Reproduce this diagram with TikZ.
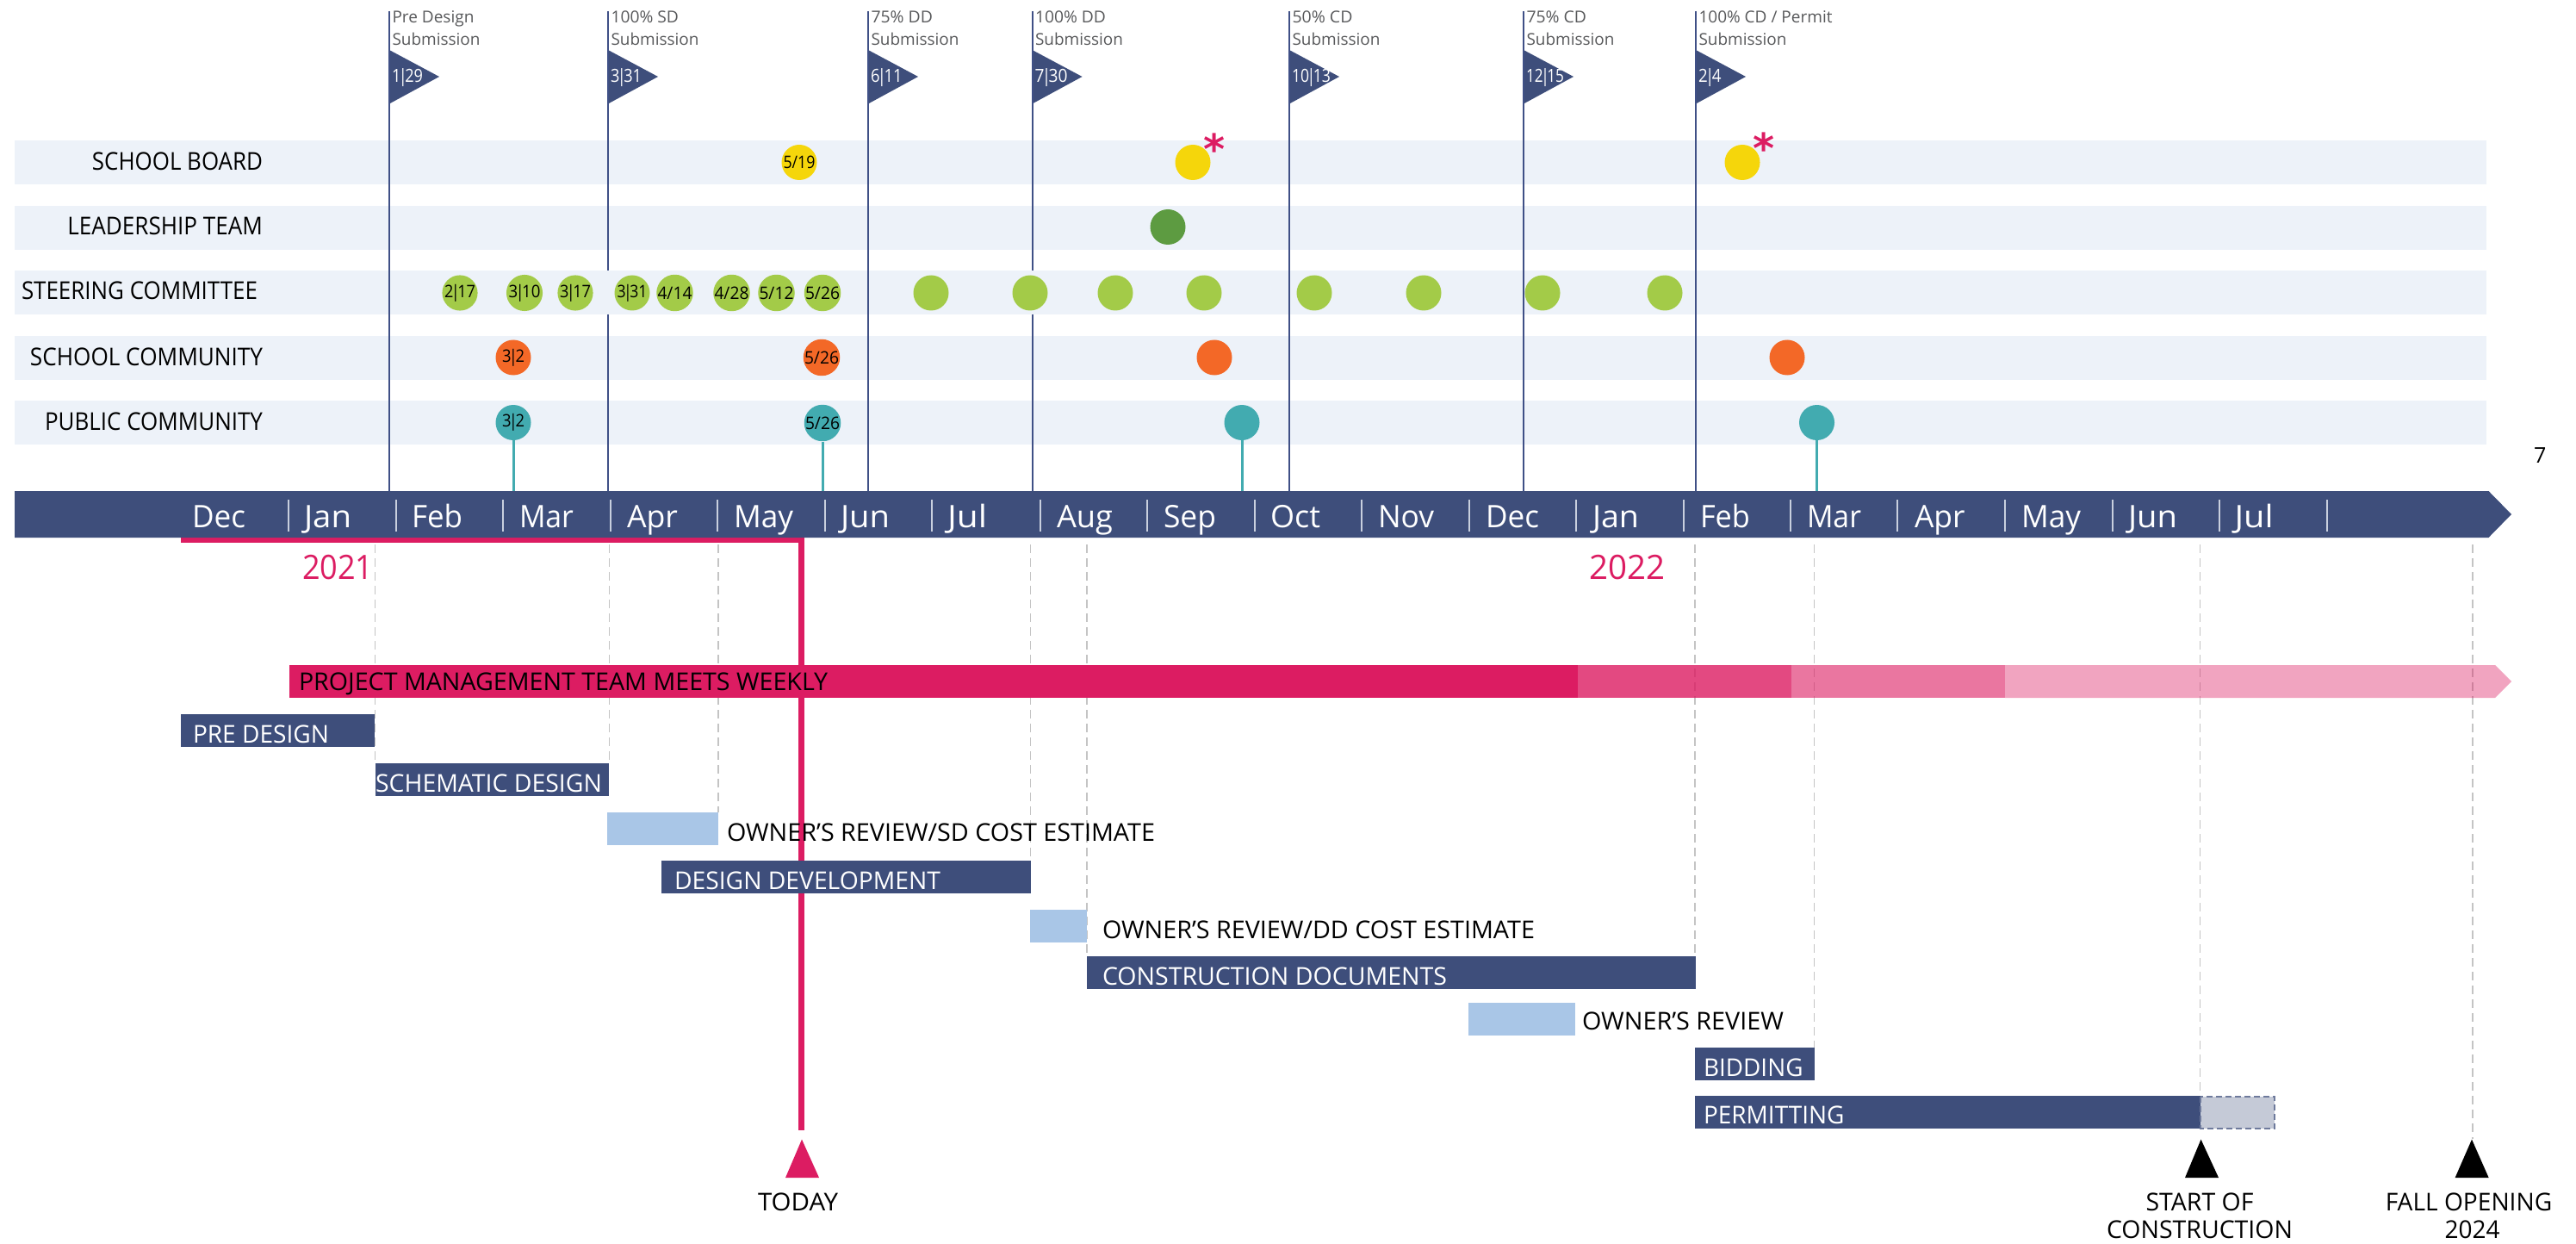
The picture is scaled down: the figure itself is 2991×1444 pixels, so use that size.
\documentclass[tikz,border=0pt]{standalone}
\usepackage{fontspec}
\setmainfont{Open Sans}
\newfontfamily\starfont{DejaVu Sans}
\newdimen\pxu \pxu=0.5pt
\newcommand\fpx[1]{\fontsize{#1\pxu}{#1\pxu}\selectfont}
\newcommand\tw[2]{\resizebox{#1\pxu}{\height}{#2}}
\newcommand\sepbar{{\kern-.14em|\kern-.14em}}
\newcommand\slsh{/}
\definecolor{navy}{HTML}{3E4E7B}
\definecolor{navyline}{HTML}{3F5086}
\definecolor{band}{HTML}{EDF2F9}
\definecolor{hot}{HTML}{DC1C62}
\definecolor{lightblue}{HTML}{A9C6E7}
\definecolor{ytick}{HTML}{C8CFDE}
\definecolor{ygold}{HTML}{F5D60B}
\definecolor{gleaf}{HTML}{5D9B41}
\definecolor{glime}{HTML}{A3CB48}
\definecolor{orng}{HTML}{F36827}
\definecolor{teal2}{HTML}{42ABB0}
\definecolor{flagtext}{HTML}{58595B}
\definecolor{guide}{HTML}{C4C4C4}
\tikzset{
  tx/.style={inner sep=0pt,outer sep=0pt,anchor=base west,text=black},
  rowlabel/.style={tx,anchor=base east,font=\fpx{28.5}},
  barlabel/.style={tx,font=\fpx{28.5}},
  barwhite/.style={barlabel,text=white},
  month/.style={tx,text=white,font=\fpx{36}},
  flaglabel/.style={tx,text=flagtext,font=\fpx{19}},
  flagdate/.style={tx,anchor=west,text=white,font=\fpx{21}},
  dot/.style={circle,inner sep=0pt,minimum size=41*\pxu,font=\fpx{20},text=black},
  flagline/.style={draw=navyline,line width=2*\pxu},
  stem/.style={draw=teal2,line width=3*\pxu},
  guideline/.style={draw=guide,line width=1.5*\pxu,dash pattern=on 10*\pxu off 6*\pxu},
  yr/.style={tx,text=hot,font=\fpx{39}},
  milestone/.style={tx,anchor=base,font=\fpx{28.5}},
  starmark/.style={inner sep=0pt,text=hot,font=\fpx{48}\starfont\bfseries}
}
\begin{document}
\begin{tikzpicture}[x=0.5pt,y=-0.5pt]
\useasboundingbox (0,0) rectangle (2991,1444);
\fill[white] (0,0) rectangle (2991,1444);
% bands
\foreach \yt in {163,239,314,390,465}
  \fill[band] (17,\yt) rectangle (2887,\yt+51);
\coordinate (axis) at (0,570);
% flag lines
\foreach \n/\xp/\atx/\wa/\dtx/\wdt in {
  a/452/Pre Design/95/1\sepbar 29/36,
  b/706/100\% SD/78.5/3\sepbar 31/36,
  c/1008/75\% DD/71.5/6\sepbar 11/36.5,
  d/1198.5/100\% DD/82/7\sepbar 30/38,
  e/1497/50\% CD/70/10\sepbar 13/45,
  f/1769/75\% CD/69.5/12\sepbar 15/44,
  g/1969/100\% CD \slsh{} Permit/155/2\sepbar 4/26.5}{
  \coordinate (ft\n) at (\xp,13);
  \coordinate (fb\n) at (\xp,570);
  \fill[navy] (\xp,58) -- (\xp+58,89) -- (\xp,120.5) -- cycle;
  \node[flaglabel] (fa\n) at (\xp+3.5,27) {\tw{\wa}{\atx}};
  \node[flaglabel] (fs\n) at (\xp+3.5,53) {\tw{102}{Submission}};
  \node[flagdate] (fd\n) at (\xp+3,90) {\tw{\wdt}{\dtx}};
}
\draw[flagline] (fta) -- (fba);
\draw[flagline] (ftb) -- (706,314) (706,365) -- (fbb);
\draw[flagline] (ftc) -- (fbc);
\draw[flagline] (ftd) -- (1198.5,314) (1198.5,365) -- (fbd);
\draw[flagline] (fte) -- (fbe);
\draw[flagline] (ftf) -- (fbf);
\draw[flagline] (ftg) -- (fbg);
% row labels
\node[rowlabel] (r1) at (305,197.5) {\tw{198}{SCHOOL BOARD}};
\node[rowlabel] (r2) at (305,273) {\tw{226.6}{LEADERSHIP TEAM}};
\node[rowlabel] (r3) at (299,348) {\tw{274}{STEERING COMMITTEE}};
\node[rowlabel] (r4) at (305,424) {\tw{270}{SCHOOL COMMUNITY}};
\node[rowlabel] (r5) at (305,499) {\tw{253}{PUBLIC COMMUNITY}};
% dots
\node[dot,fill=ygold] (sb1) at (928,188.5) {\tw{37}{5/19}};
\node[dot,fill=ygold] (sb2) at (1385,188.5) {};
\node[dot,fill=ygold] (sb3) at (2023,188.5) {};
\node[starmark] (st1) at (1410,173) {*};
\node[starmark] (st2) at (2048,172) {*};
\node[dot,fill=gleaf] (lt1) at (1356,263.5) {};
\foreach \n/\xp/\dtx/\tww in {1/534/2\sepbar 17/36,2/609/3\sepbar 10/37,3/668/3\sepbar 17/36,4/734/3\sepbar 31/35,5/783.5/4\slsh{}14/40,6/849.5/4\slsh{}28/40,7/901.5/5\slsh{}12/40,8/955/5\slsh{}26/40}{
  \node[dot,fill=glime] (sc\n) at (\xp,340) {\tw{\tww}{\dtx}};
}
\foreach \n/\xp in {9/1081,10/1196,11/1295,12/1398,13/1526,14/1653,15/1791,16/1933}{
  \node[dot,fill=glime] (sc\n) at (\xp,340) {};
}
\node[dot,fill=orng] (so1) at (596,415) {\tw{26}{3\sepbar 2}};
\node[dot,fill=orng] (so2) at (954,415) {\tw{40}{5/26}};
\node[dot,fill=orng] (so3) at (1410,415) {};
\node[dot,fill=orng] (so4) at (2075,415) {};
\node[dot,fill=teal2] (pc1) at (596,490.5) {\tw{26}{3\sepbar 2}};
\node[dot,fill=teal2] (pc2) at (955,491) {\tw{40}{5/26}};
\node[dot,fill=teal2] (pc3) at (1442,490.5) {};
\node[dot,fill=teal2] (pc4) at (2109.5,490.5) {};
\foreach \n in {pc1,pc2,pc3,pc4}
  \draw[stem] (\n.south) -- (\n.south |- axis);
% guides
\coordinate (g1a) at (435.6,632); \coordinate (g1b) at (435.6,886);
\coordinate (g2a) at (707.5,632); \coordinate (g2b) at (707.5,886);
\coordinate (g3a) at (834,632);   \coordinate (g3b) at (834,943);
\coordinate (g4a) at (1196.5,632);\coordinate (g4b) at (1196.5,999);
\coordinate (g5a) at (1262,632);  \coordinate (g5b) at (1262,1110);
\coordinate (g6a) at (1968,632);\coordinate (g6b) at (1968,1110);
\coordinate (g7a) at (2106.7,632);  \coordinate (g7b) at (2106.7,1216);
\coordinate (g8a) at (2554.5,632);  \coordinate (g8b) at (2554.5,1272);
\coordinate (g9a) at (2871,632);\coordinate (g9b) at (2871,1322);
\foreach \ii in {1,...,9}
  \draw[guideline] (g\ii a) -- (g\ii b);
% today line
\fill[hot] (210,624) rectangle (933.5,630);
\coordinate (todaytop) at (930.5,624);
\coordinate (todaybot) at (930.5,1312);
\draw[hot,line width=7*\pxu] (todaytop) -- (todaybot);
% main bar
\fill[navy] (17,570) -- (2889.5,570) -- (2916,597) -- (2889.5,624) -- (17,624) -- cycle;
\foreach \xp in {335,460,584,709,833,958,1082,1208,1332,1457,1581,1706,1830,1954.5,2079,2203,2328,2452.5,2577,2702}
  \draw[ytick,line width=2*\pxu] (\xp,580) -- (\xp,617);
\foreach \n/\xp/\tww/\lbl in {1/223/62/Dec,2/353/55/Jan,3/478/59/Feb,4/603/63/Mar,5/728/59/Apr,6/852/69/May,7/976/57/Jun,8/1100/46/Jul,9/1227/65/Aug,10/1351/61/Sep,11/1475/58/Oct,12/1600/65/Nov,13/1725/62/Dec,14/1849/54/Jan,15/1974/58/Feb,16/2098/63/Mar,17/2223/58.5/Apr,18/2347/69/May,19/2471/57/Jun,20/2594.5/45/Jul}{
  \node[month] (m\n) at (\xp,612) {\tw{\tww}{\lbl}};
}
\node[yr] (y21) at (351,672) {\tw{82.5}{2021}};
\node[yr] (y22) at (1845,672) {\tw{88}{2022}};
% pink bar
\fill[hot] (336,772) rectangle (1832,810);
\fill[hot,fill opacity=.8] (1832,772) rectangle (2080,810);
\fill[hot,fill opacity=.6] (2080,772) rectangle (2328,810);
\fill[hot,fill opacity=.4] (2328,772) -- (2897,772) -- (2916,791) -- (2897,810) -- (2328,810) -- cycle;
\node[barlabel] (pm) at (347,801.5) {\tw{614}{PROJECT MANAGEMENT TEAM MEETS WEEKLY}};
% bars
\fill[navy] (210,829) rectangle (435,867);
\node[barwhite] (b1) at (224,862) {\tw{158}{PRE DESIGN}};
\fill[navy] (436,886) rectangle (707,924);
\node[barwhite] (b2) at (436,919.5) {\tw{263}{SCHEMATIC DESIGN}};
\fill[lightblue] (705,943) rectangle (834,981);
\node[barlabel] (b3) at (844,976) {\tw{497}{OWNER’S REVIEW/SD COST ESTIMATE}};
\fill[navy] (768,999) rectangle (1197,1037);
\node[barwhite] (b4) at (783,1032) {\tw{309}{DESIGN DEVELOPMENT}};
\fill[lightblue] (1196,1056) rectangle (1262,1094);
\node[barlabel] (b5) at (1280,1089) {\tw{502}{OWNER’S REVIEW/DD COST ESTIMATE}};
\fill[navy] (1262,1110) rectangle (1969,1148);
\node[barwhite] (b6) at (1280,1143) {\tw{400}{CONSTRUCTION DOCUMENTS}};
\fill[lightblue] (1705,1164) rectangle (1829,1202);
\node[barlabel] (b7) at (1837,1195) {\tw{234}{OWNER’S REVIEW}};
\fill[navy] (1968,1216) rectangle (2107,1254);
\node[barwhite] (b8) at (1978,1249) {\tw{115.5}{BIDDING}};
\fill[navy] (1968,1272) rectangle (2555,1310);
\node[barwhite] (b9) at (1978,1304) {\tw{163.5}{PERMITTING}};
\draw[fill=navy!30,draw=navy!75,line width=2*\pxu,dash pattern=on 7*\pxu off 4*\pxu] (2555,1273) rectangle (2641,1309.5);
% markers
\fill[hot] (931,1322.6) -- (951,1367) -- (912,1367) -- cycle;
\fill[black] (2555.5,1322.6) -- (2576,1367) -- (2537,1367) -- cycle;
\fill[black] (2870,1322.6) -- (2889.6,1367) -- (2850.6,1367) -- cycle;
\node[milestone] (k1) at (926.5,1405) {\tw{93}{TODAY}};
\node[milestone] (k2) at (2554,1405) {\tw{125}{START OF}};
\node[milestone] (k3) at (2554,1437.5) {\tw{216}{CONSTRUCTION}};
\node[milestone] (k4) at (2866.5,1405) {\tw{193.5}{FALL OPENING}};
\node[milestone] (k5) at (2870.5,1437.5) {\tw{64}{2024}};
\node[tx,font=\fpx{25}] (seven) at (2942,537) {7};
\end{tikzpicture}
\end{document}
